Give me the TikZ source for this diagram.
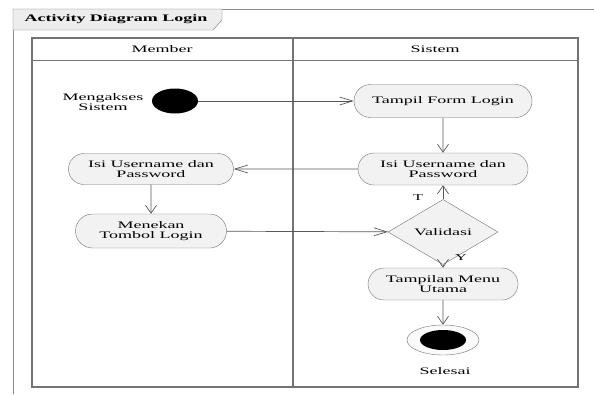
\documentclass[tikz,border=0pt]{standalone}
\usepackage{fontspec}
\setmainfont[FakeStretch=1.8]{Liberation Serif}
\usetikzlibrary{arrows.meta,shapes.misc,shapes.geometric}

\tikzset{
    aksi/.style={rounded rectangle, draw=black!55, fill=black!5, align=center, inner sep=1pt, minimum height=32pt},
    keputusan/.style={diamond, draw=black!55, fill=black!5, inner sep=0pt, minimum width=110pt, minimum height=35pt},
    awal/.style={ellipse, fill=black, inner sep=0pt, minimum width=46pt, minimum height=25pt},
    akhir/.style={ellipse, draw=black!55, fill=black!2, inner sep=0pt, minimum width=72pt, minimum height=30pt},
    panahH/.style={-{Straight Barb[length=13pt,width=8pt]}},
    panahV/.style={-{Straight Barb[length=8pt,width=11pt]}},
}

\begin{document}
\begin{tikzpicture}[x=1pt,y=-1pt]
    \useasboundingbox (0,0) rectangle (594,394);
    % bingkai dan judul
    \draw[black!45, line width=1pt] (13,394) -- (13,9) -- (594,9);
    \draw[black!55, fill=black!7] (13,9) -- (222,9) -- (222,20) -- (213,30) -- (13,30) -- cycle;
    \node[anchor=west, font=\bfseries] (judul) at (21,19) {Activity Diagram Login};

    % swimlane
    \draw[black!55, line width=1.2pt] (32,38) rectangle (578,387);
    \draw[black!55, line width=1pt] (32,60) -- (578,60);
    \draw[black!55, line width=1.2pt] (293,38) -- (293,387);
    \node (member) at (162,49) {Member};
    \node (sistem) at (435,49) {Sistem};

    \node[align=center] (akses) at (103,102) {Mengakses\\[-2pt]Sistem};
    \node[awal] (mulai) at (175,101) {};
    \node[aksi, minimum width=180pt, minimum height=33pt] (tampil) at (443,101) {Tampil Form Login};
    \node[aksi, minimum width=172pt] (isiS) at (443,169) {Isi Username dan\\[-2pt]Password};
    \node[aksi, minimum width=167pt, minimum height=31pt] (isiM) at (151,169) {Isi Username dan\\[-2pt]Password};
    \node[aksi, minimum width=153pt, minimum height=34pt] (tekan) at (151,231) {Menekan\\[-2pt]Tombol Login};
    \node[keputusan] (valid) at (443,232) {Validasi};
    \node[aksi, minimum width=152pt] (menu) at (443,284) {Tampilan Menu\\[-2pt]Utama};
    \node[akhir] (akhir) at (443,340) {};
    \node[awal, minimum width=46pt, minimum height=20pt] (akhirdalam) at (akhir) {};
    \node (selesai) at (445,371) {Selesai};
    \node[font=\small] (labelT) at (418,198) {T};
    \node[font=\small] (labelY) at (461,258) {Y};

    \path[draw=black!65, line width=0.7pt]
    (mulai) [panahH] edge [] (tampil)
    (tampil) [panahV] edge [] (isiS)
    (isiS) [panahH] edge [] (isiM)
    (isiM) [panahV] edge [] (tekan)
    (tekan) [panahH] edge [] (valid)
    (valid) [panahV] edge [] (isiS)
    (valid) [panahV] edge [] (menu)
    (menu) [panahV] edge [] (akhir);

\end{tikzpicture}
\end{document}
